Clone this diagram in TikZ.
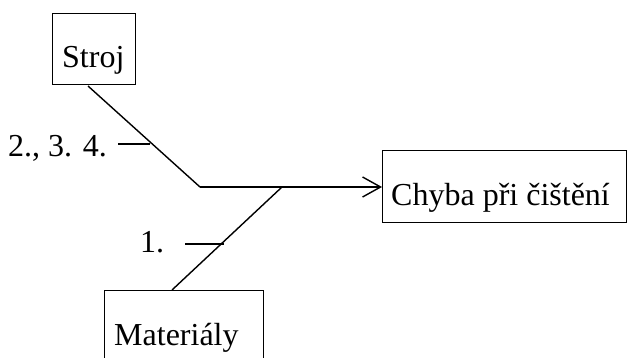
\documentclass[tikz,border=0pt]{standalone}
\usepackage{fontspec}
\setmainfont{Liberation Serif}
\usetikzlibrary{arrows.meta}
\begin{document}
\begin{tikzpicture}[x=1pt,y=-1pt,
  boxnode/.style={draw,line width=1.4pt,inner sep=0pt,anchor=north west},
  lbl/.style={font=\fontsize{32}{32}\selectfont,inner sep=0pt,anchor=base west},
  ln/.style={line width=1.4pt}]
\useasboundingbox (0,0) rectangle (628,358);
\clip (0,0) rectangle (628,358);
\fill[white] (0,0) rectangle (628,358);
% boxes
\node[boxnode,minimum width=83pt,minimum height=71pt] (stroj) at (52,13) {};
\node[boxnode,minimum width=244pt,minimum height=72pt] (chyba) at (382,150) {};
\node[boxnode,minimum width=159pt,minimum height=80pt] (mat) at (104,290) {};
% texts
\node[lbl] (tstroj) at (62,68) {Stroj};
\node[lbl] (tchyba) at (391,205) {Chyba při čištění};
\node[lbl] (tmat) at (114,345) {Materiály};
\node[lbl] (t234) at (8,157) {2., 3. 4.};
\node[lbl] (t1) at (140,252) {1.};
% connector points
\coordinate (s0) at (88,86);
\coordinate (bend) at (200,187);
\coordinate (join) at (282,187);
\coordinate (m0) at (172,290);
\coordinate (k1a) at (118,144);
\coordinate (k1b) at (150,144);
\coordinate (k2a) at (185,244);
\coordinate (k2b) at (224,244);
% connectors
\draw[ln] (s0) -- (bend);
\draw[ln,-{Straight Barb[length=18pt,width=20pt,line width=1.4pt]}] (bend) -- (chyba.west |- bend);
\draw[ln] (m0) -- (join);
\draw[ln] (k1a) -- (k1b);
\draw[ln] (k2a) -- (k2b);
\end{tikzpicture}
\end{document}
